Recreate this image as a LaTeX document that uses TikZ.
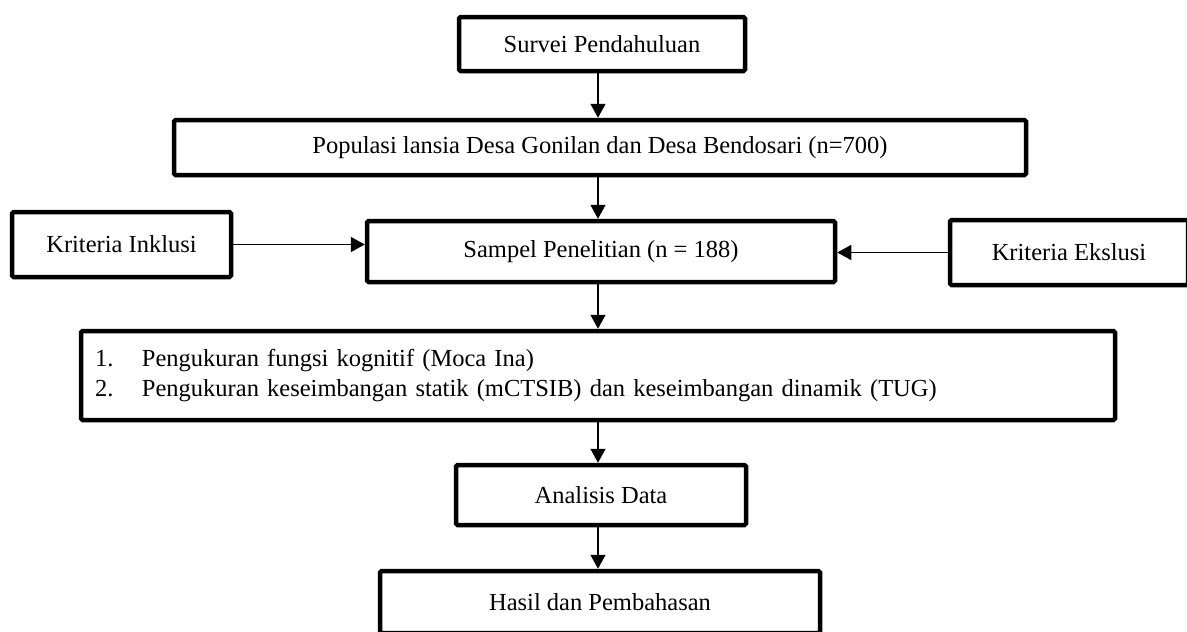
\documentclass[tikz,border=0pt]{standalone}
\usepackage{fontspec}
\setmainfont{Liberation Serif}
\usetikzlibrary{arrows.meta,positioning,calc}
\tikzset{
  bx/.style={draw,line width=4.5pt,rounded corners=1.5pt,fill=white,inner sep=0pt,font=\fontsize{24.5}{30}\selectfont},
  ar/.style={-{Triangle[length=14pt,width=15pt]},line width=1.6pt}
}

\begin{document}
\begin{tikzpicture}[x=1pt,y=-1pt]
  \useasboundingbox (0,0) rectangle (1187,632);
  \coordinate (mid) at (598,0);
  \node[bx,minimum width=286,minimum height=54] (surv) at (602,44) {Survei Pendahuluan};
  \node[bx,minimum width=852,minimum height=55] (pop) at (600,147.5) {Populasi lansia Desa Gonilan dan Desa Bendosari (n=700)};
  \node[bx,minimum width=468,minimum height=61] (samp) at (601,251.5) {Sampel Penelitian (n = 188)};
  \node[bx,minimum width=219,minimum height=65] (inkl) at (121.5,244.5) {Kriteria Inklusi};
  \node[bx,minimum width=238,minimum height=65] (eks) at (1069,252.5) {Kriteria Ekslusi};
  \node[bx,minimum height=89,text width=1006pt,inner xsep=14pt,align=left] (ukur) at (598,375.5)
    {\begin{tabular}{@{}p{47pt}@{}l@{}}1. & Pengukuran fungsi kognitif (Moca Ina)\\
     2. & Pengukuran keseimbangan statik (mCTSIB) dan keseimbangan dinamik (TUG)\end{tabular}};
  \node[bx,minimum width=290,minimum height=60] (anal) at (601,495) {Analisis Data};
  \node[bx,minimum width=440,minimum height=62] (has) at (600,602) {Hasil dan Pembahasan};
  \foreach \a/\b in {surv/pop,pop/samp,samp/ukur,ukur/anal,anal/has}{\draw[ar](\a.south -| mid)--(\b.north -| mid);}
  \draw[ar] (inkl.east) -- (inkl.east -| samp.west);
  \draw[ar] (eks.west) -- (eks.west -| samp.east);
\end{tikzpicture}
\end{document}
